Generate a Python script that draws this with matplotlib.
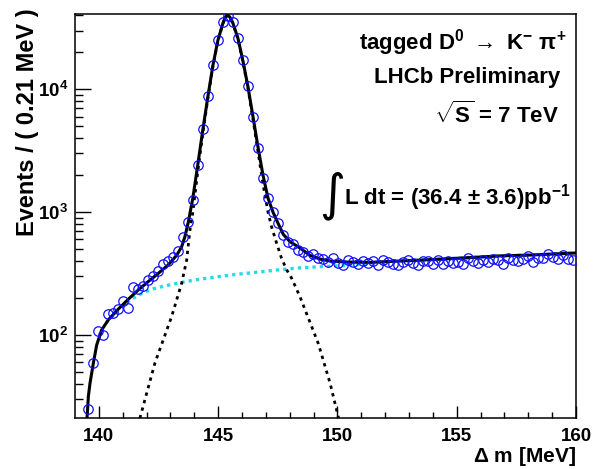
import numpy as np
import matplotlib
matplotlib.use("Agg")
import matplotlib.pyplot as plt
from matplotlib.ticker import FixedLocator, LogLocator, NullFormatter, FuncFormatter

plt.rcParams['font.family'] = ['Liberation Sans', 'DejaVu Sans']
plt.rcParams['font.weight'] = 'bold'
plt.rcParams['mathtext.fontset'] = 'custom'
plt.rcParams['mathtext.rm'] = 'Liberation Sans:bold'
plt.rcParams['mathtext.it'] = 'Liberation Sans:bold'
plt.rcParams['mathtext.bf'] = 'Liberation Sans:bold'
plt.rcParams['mathtext.sf'] = 'Liberation Sans:bold'

# Delta m histogram: 100 bins of 0.21 MeV starting at 139 MeV
bin_lo = 139.0
bin_width = 0.21
counts = [
    0, 0, 25, 59, 108, 100, 148, 152, 163, 190,
    166, 245, 235, 252, 280, 300, 330, 375, 400, 430,
    485, 625, 825, 1265, 2410, 4730, 8770, 15850, 25350, 35250,
    39200, 35250, 26300, 17200, 10570, 5960, 3300, 1900, 1300, 1007,
    809, 650, 574, 548, 491, 470, 438, 452, 425, 415,
    395, 420, 388, 372, 410, 390, 375, 402, 385, 398,
    372, 405, 392, 380, 370, 395, 408, 382, 372, 398,
    402, 378, 410, 380, 400, 388, 395, 376, 420, 400,
    382, 405, 395, 415, 410, 375, 425, 408, 400, 418,
    440, 395, 420, 425, 455, 430, 412, 450, 418, 405,
]

# total fit curve
fit_dm = [139.48, 139.53, 139.56, 139.63, 139.77, 139.91, 140.12, 140.40, 140.81,
          141.23, 141.65, 142.07, 142.49, 142.91, 143.26, 143.47, 143.61, 143.75,
          143.94, 144.15, 144.36, 144.57, 144.78, 144.99, 145.20, 145.30, 145.40,
          145.50, 145.62, 145.83, 146.04, 146.25, 146.46, 146.67, 146.88, 147.09,
          147.30, 147.50, 147.73, 148.01, 148.43, 148.85, 149.27, 149.69, 150.40,
          151.40, 152.60, 153.30, 154.70, 155.40, 156.80, 158.20, 160.00]
fit_val = [18, 25, 31.5, 40.5, 59, 83, 110, 133, 162,
           195, 232, 272, 317, 372, 445, 522, 633, 830,
           1300, 2450, 4700, 8700, 15600, 25000, 34500, 38500, 40300,
           38500, 34500, 26000, 17000, 10500, 6000, 3400, 2000, 1300,
           1000, 820, 660, 575, 510, 445, 415, 400, 392,
           390, 400, 405, 418, 425, 440, 448, 465]

# signal component
sig_dm = [141.72, 142.35, 143.05, 143.47, 143.68, 143.82, 143.94, 144.15, 144.36,
          144.57, 144.78, 144.99, 145.20, 145.30, 145.40, 145.50, 145.62, 145.83,
          146.04, 146.25, 146.46, 146.67, 146.88, 147.09, 147.24, 147.45, 147.66,
          147.87, 148.08, 148.43, 149.20, 149.70, 150.05]
sig_val = [21, 59, 141, 263, 405, 715, 1000, 2150, 4400,
           8400, 15300, 24700, 34200, 38200, 40000, 38200, 34200, 25700,
           16700, 10200, 5700, 3100, 1700, 1000, 760, 560, 420,
           340, 290, 205, 85, 40, 21]

# background component
bkg_dm = [140.30, 140.60, 141.00, 141.37, 141.80, 142.30, 142.90, 143.40, 144.00,
          144.87, 145.80, 146.75, 147.60, 148.43, 149.30, 150.10, 150.80, 151.50,
          152.60, 153.30, 154.70, 155.40, 156.80, 158.20, 160.00]
bkg_val = [125, 145, 172, 196, 218, 238, 254, 266, 280,
           296, 312, 326, 340, 352, 360, 366, 375, 388,
           400, 405, 418, 425, 440, 448, 465]

x_ticks_major = [140, 145, 150, 155, 160]

fig = plt.figure(figsize=(5.97, 4.69), dpi=100)
ax = fig.add_axes([0.1256, 0.1077, 0.8392, 0.8625])

centers = bin_lo + bin_width * (np.arange(len(counts)) + 0.5)
cnt = np.array(counts, dtype=float)
mask = cnt > 0

ax.plot(bkg_dm, bkg_val, color='#22dde8', lw=2.4, ls=(0, (1.0, 1.2)), zorder=2)
ax.plot(sig_dm, sig_val, color='black', lw=2.0, ls=(0, (1.2, 1.6)), zorder=3)
ax.plot(fit_dm, fit_val, color='black', lw=2.2, zorder=4)
ax.plot(centers[mask], cnt[mask], ls='none', marker='o', ms=6.8, mfc='none',
        mec='#1010ff', mew=0.9, zorder=5)

ax.set_yscale('log')
ax.set_xlim(bin_lo, bin_lo + bin_width * len(counts))
ax.set_ylim(20.9, 41000)

ax.xaxis.set_major_locator(FixedLocator(x_ticks_major))
ax.xaxis.set_minor_locator(FixedLocator(np.arange(140, 161, 1)))
ax.yaxis.set_major_locator(FixedLocator([1e2, 1e3, 1e4]))
ax.yaxis.set_minor_locator(LogLocator(base=10, subs=np.arange(2, 10)))
ax.yaxis.set_minor_formatter(NullFormatter())
ax.yaxis.set_major_formatter(FuncFormatter(lambda v, p: r'$10^{%d}$' % round(np.log10(v))))

ax.tick_params(axis='both', which='both', direction='in', top=False, right=False,
               labelsize=13.5, width=1.0)
ax.tick_params(axis='x', which='major', length=8.4, pad=7)
ax.tick_params(axis='x', which='minor', length=4.1)
ax.tick_params(axis='y', which='major', length=11.3, pad=5)
ax.tick_params(axis='y', which='minor', length=5.5)
for lbl in ax.get_xticklabels() + ax.get_yticklabels():
    lbl.set_fontweight('bold')
for sp in ax.spines.values():
    sp.set_linewidth(1.1)

fig.text(576 / 597, 1 - 456 / 469, r'$\Delta$ m [MeV]', ha='right', va='center',
         fontsize=15, fontweight='bold')
fig.text(28 / 597, 1 - 8 / 469, 'Events / ( 0.21 MeV )', ha='center', va='top',
         rotation=90, fontsize=17, fontweight='bold')

def label(xp, yp, s, size=16, **kw):
    fig.text(xp / 597, 1 - yp / 469, s, ha='right', va='center', fontsize=size,
             fontweight='bold', **kw)

label(567, 43, r'tagged D$^{0}$ $\rightarrow$ K$^{-}$ $\pi^{+}$')
label(560, 78, 'LHCb Preliminary')
label(559, 115, r'$\sqrt{\mathrm{S}}$ = 7 TeV')
label(570, 198, r'L dt = (36.4 $\pm$ 3.6)pb$^{-1}$')
fig.text(332 / 597, 1 - 196 / 469, '\u222b', ha='center', va='center', fontsize=36,
         family='DejaVu Sans', fontweight='normal')

fig.savefig('out.png', dpi=100)
